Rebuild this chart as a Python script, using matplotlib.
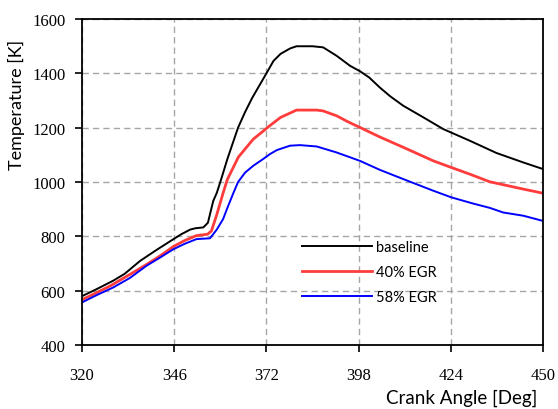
import matplotlib
matplotlib.use("Agg")
import matplotlib.pyplot as plt

# crank angle [deg] / temperature [K]
angle_base = [320, 324, 328.8, 332, 336.4, 341, 345.8, 348, 350.5, 352, 354.2, 355.5,
              357, 358, 359, 361, 364, 366, 368, 370, 372, 374, 376, 378.7, 380.5,
              385, 388, 391.8, 395.6, 398.4, 401, 404, 407, 410.6, 416.3, 421.9,
              429.4, 436.9, 444.5, 450]
temp_base = [580, 605, 637, 662, 710, 750, 790, 808, 825, 830, 833, 850,
             930, 960, 1000, 1085, 1200, 1258, 1310, 1355, 1400, 1446, 1472, 1492, 1500,
             1500, 1496, 1465, 1428, 1408, 1385, 1348, 1315, 1281, 1238, 1195,
             1152, 1107, 1072, 1048]

angle_40 = [320, 324, 328, 333.5, 338, 342, 345.8, 349, 352.3, 355.4, 356.5, 358,
            359.8, 361, 364.1, 368.3, 373.2, 376, 380.5, 386.2, 388, 391.8, 395,
            398.4, 404, 410.6, 419.1, 424.1, 429.4, 435, 444.5, 450]
temp_40 = [567, 592, 618, 660, 695, 728, 763, 785, 803, 808, 820, 880,
           960, 1010, 1092, 1158, 1210, 1238, 1265, 1265, 1262, 1244, 1222,
           1201, 1166, 1128, 1078, 1054, 1029, 1001, 974, 959]

angle_58 = [320, 324, 328.8, 333.5, 338.2, 342, 345.8, 349, 352.3, 356.1, 358,
            359.8, 361, 362.7, 364, 366, 368.3, 371.1, 373, 375, 378.7, 381.5,
            386.2, 391.8, 398.4, 404, 410.6, 419.1, 424.1, 430, 435, 438.8,
            444.5, 450]
temp_58 = [557, 583, 612, 647, 692, 722, 753, 773, 790, 793, 825,
           864, 905, 960, 1000, 1035, 1060, 1085, 1103, 1118, 1134, 1136,
           1131, 1109, 1078, 1045, 1011, 968, 944, 922, 905, 888,
           876, 857]

x_ticks = [320, 346, 372, 398, 424, 450]
y_ticks = [400, 600, 800, 1000, 1200, 1400, 1600]

fig = plt.figure(figsize=(5.58, 4.10), dpi=100)
ax = fig.add_axes([0.147, 0.156, 0.826, 0.795])

ax.plot(angle_base, temp_base, color="black", lw=1.4, label="baseline")
ax.plot(angle_40, temp_40, color="#ff3c3c", lw=2.0, label="40% EGR")
ax.plot(angle_58, temp_58, color="#0000ff", lw=1.4, label="58% EGR")

ax.set_xlim(320, 450)
ax.set_ylim(400, 1600)
ax.set_xticks(x_ticks)
ax.set_yticks(y_ticks)
ax.grid(True, color="#a6a6a6", lw=1, linestyle=(0, (4.5, 3)))
ax.set_axisbelow(True)

for sp in ax.spines.values():
    sp.set_linewidth(1.3)
ax.tick_params(direction="out", length=5, width=1.2, labelsize=12, pad=7)
for lab in ax.get_xticklabels() + ax.get_yticklabels():
    lab.set_fontfamily("Liberation Serif")
ax.tick_params(axis="x", pad=11)

ax.set_xlabel("Crank Angle [Deg]", family="Lato", fontsize=13.5)
ax.xaxis.set_label_coords(0.987, -0.135)
ax.xaxis.label.set_ha("right")
ax.set_ylabel("Temperature [K]", family="Lato", fontsize=13)
ax.yaxis.set_label_coords(-0.124, 0.739)

ax.legend(loc="upper left", bbox_to_anchor=(0.4766, 0.322), frameon=False,
          prop={"family": "Lato", "size": 10.5}, handlelength=4.8,
          handletextpad=0.3, labelspacing=0.75, borderpad=0, borderaxespad=0)

fig.savefig("out.png", dpi=100)
